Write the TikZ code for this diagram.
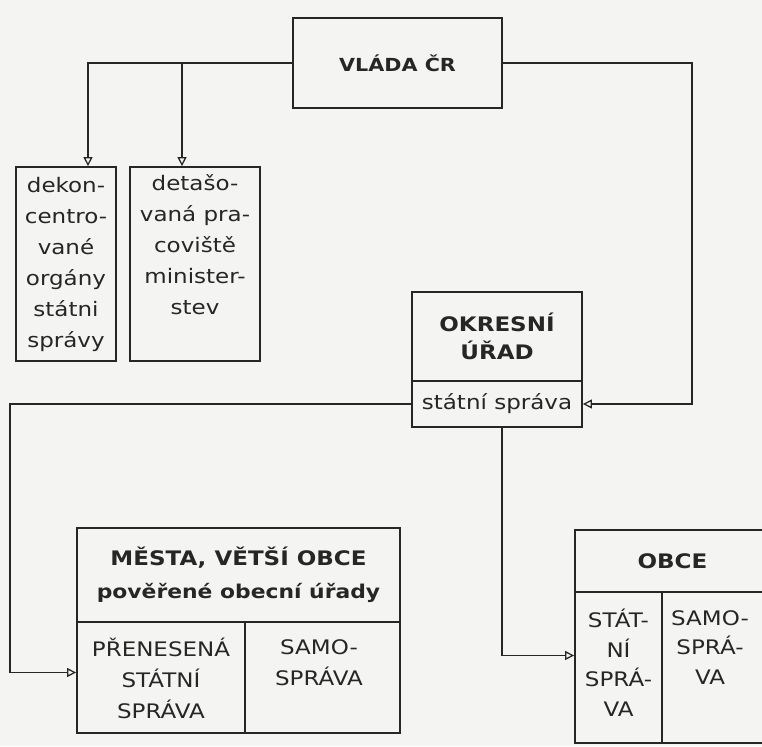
\documentclass[tikz,border=0pt]{standalone}
\usepackage{fontspec}
\setmainfont{DejaVu Sans}[FakeStretch=1.15]
\usetikzlibrary{arrows.meta}
\definecolor{ink}{HTML}{262626}
\definecolor{paper}{HTML}{F4F4F2}
\begin{document}
\begin{tikzpicture}[x=1pt,y=-1pt,
  box/.style={draw=ink, line width=1.8pt, rectangle, inner sep=0pt, text=ink, align=center,
              font=\fontsize{20}{31}\selectfont},
  bbox/.style={box, font=\fontsize{20}{31}\selectfont\bfseries},
  txt/.style={text=ink, align=center, inner sep=0pt, font=\fontsize{20}{31}\selectfont},
  arr/.style={draw=ink, line width=1.8pt,
              -{Triangle[open, length=9pt, width=9pt, line width=1.3pt]}}]
\fill[paper] (0,0) rectangle (762,746);
\useasboundingbox (0,0) rectangle (762,746);

% top
\node[bbox, minimum width=209pt, minimum height=90pt, font=\fontsize{18}{24}\selectfont\bfseries]
  (vlada) at (397.5,63) {VLÁDA ČR};

% left boxes
\node[box, minimum width=100pt, minimum height=194pt] (dek) at (66,264)
  {dekon-\\centro-\\vané\\orgány\\státni\\správy};
\node[box, minimum width=130pt, minimum height=194pt] (det) at (195,264) {};
\node[txt] (dettext) at (195,245) {detašo-\\vaná pra-\\coviště\\minister-\\stev};

% district office
\node[bbox, minimum width=170pt, minimum height=89pt, font=\fontsize{20}{28}\selectfont\bfseries]
  (okres) at (497,336.5) {OKRESNÍ\\ÚŘAD};
\node[box, minimum width=170pt, minimum height=46pt] (okresss) at (497,404) {státní správa};

% towns
\node[bbox, minimum width=323pt, minimum height=94pt, font=\fontsize{20}{33}\selectfont\bfseries]
  (mesta) at (238.5,575) {MĚSTA, VĚTŠÍ OBCE\\{\fontsize{19}{33}\selectfont pověřené obecní úřady}};
\node[box, minimum width=168pt, minimum height=111pt] (mestaps) at (161,677.5) {};
\node[box, minimum width=155pt, minimum height=111pt] (mestasam) at (322.5,677.5) {};
\node[txt] (mestapst) at (161,678) {PŘENESENÁ\\STÁTNÍ\\SPRÁVA};
\node[txt] (mestasamt) at (319,662.5) {SAMO-\\SPRÁVA};

% municipalities
\node[bbox, minimum width=195pt, minimum height=62pt] (obce) at (672.5,561) {OBCE};
\node[box, minimum width=87pt, minimum height=151pt] (obcess) at (618.5,667.5) {};
\node[box, minimum width=104pt, minimum height=151pt] (obcesam) at (714,667.5) {};
\node[txt, font=\fontsize{20}{29.5}\selectfont] (obcesst) at (618.5,662.5) {STÁT-\\NÍ\\SPRÁ-\\VA};
\node[txt, font=\fontsize{20}{29.5}\selectfont] (obcesamt) at (710,647.5) {SAMO-\\SPRÁ-\\VA};

% connectors
\draw[arr] (vlada.west) -| ([xshift=22pt]dek.north);
\draw[arr] ([xshift=-13pt]det.north |- vlada.west) -- ([xshift=-13pt]det.north);
\coordinate (rturn) at (692,63);
\draw[arr] (vlada.east) -- (rturn) |- (okresss.east);
\coordinate (lturn) at (10,404);
\draw[arr] (okresss.west) -- (lturn) |- ([yshift=5pt]mestaps.west);
\draw[arr] ([xshift=5pt]okresss.south) |- ([yshift=12pt]obcess.west);
\end{tikzpicture}
\end{document}
